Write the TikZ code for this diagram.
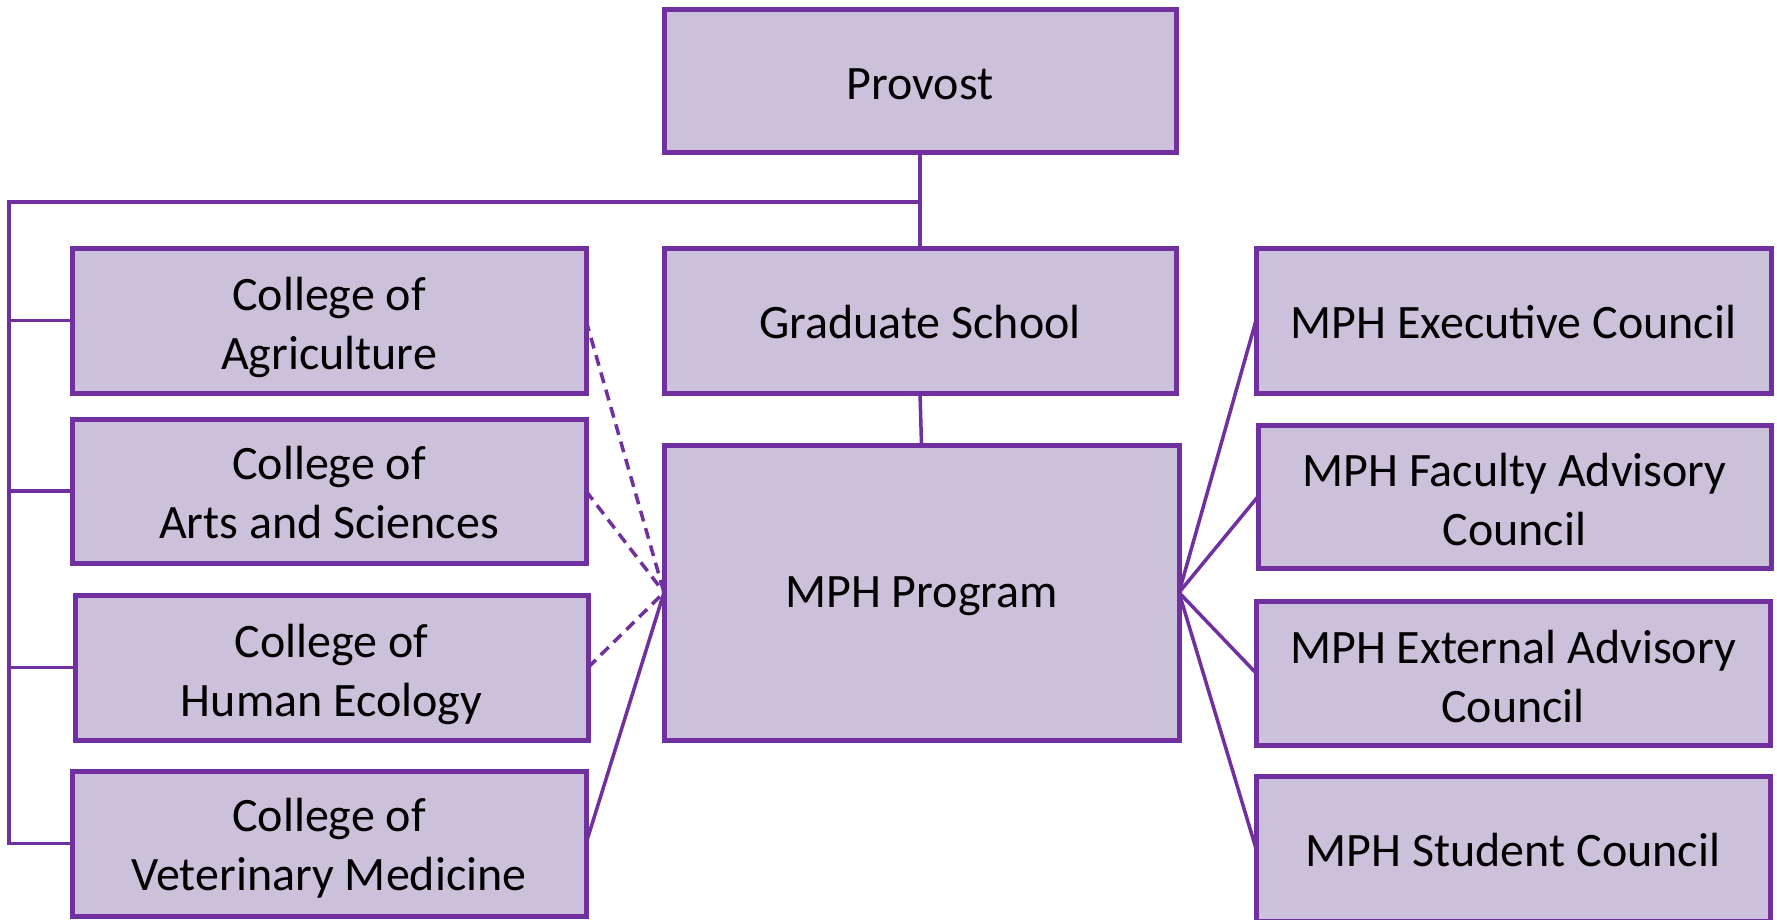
\documentclass[tikz,border=0pt]{standalone}
\usepackage{fontspec}
\setmainfont{Carlito}
\definecolor{boxfill}{HTML}{CCC1DA}
\definecolor{boxline}{HTML}{7030A0}
\newcommand\dn[1]{\raisebox{#1pt}{\vphantom{lP}}}
\begin{document}
\begin{tikzpicture}[x=1pt,y=-1pt,
  box/.style={draw=boxline, fill=boxfill, line width=5pt, inner sep=0pt, outer sep=0pt,
    align=center, text=black, font=\fontsize{48}{59}\selectfont,
    minimum width=514pt, minimum height=145pt},
  link/.style={draw=boxline, line width=3.5pt},
  dlink/.style={link, dash pattern=on 11pt off 7pt}]
\clip (0,0) rectangle (1777,919);
\fill[white] (0,0) rectangle (1777,919);
% centre column
\node[box, minimum width=512pt, minimum height=143pt] (provost) at (920,80.5) {\dn{5}Provost};
\node[box, minimum width=512pt] (grad) at (920,320.5) {\dn{4}Graduate School};
\node[box, minimum width=515pt, minimum height=295pt] (mph) at (921.5,592.5) {\dn{5}MPH Program};
% colleges
\node[box] (agri) at (329,320.5) {\dn{13}College of\\Agriculture};
\node[box, minimum height=144pt] (arts) at (329,491) {\dn{4}College of\\Arts and Sciences};
\node[box, minimum width=513pt] (human) at (331.5,667.5) {\dn{13}College of\\Human Ecology};
\node[box] (vet) at (329,843.5) {\dn{10}College of\\Veterinary Medicine};
% councils
\node[box, minimum width=515pt] (exec) at (1513.5,320.5) {\dn{3}MPH Executive Council};
\node[box, minimum width=513pt, minimum height=143pt] (faculty) at (1514.5,496.5) {\dn{6}MPH Faculty Advisory\\Council};
\node[box, minimum height=144pt] (external) at (1513,673) {\dn{6}MPH External Advisory\\Council};
\node[box] (student) at (1513,848.5) {\dn{3}MPH Student Council};
% tree connectors
\coordinate (corner) at (9,202);
\draw[link] (provost.south) -- (grad.north);
\draw[link] (grad.south) -- (mph.north);
\draw[link, line join=miter] (provost.south |- corner) -- (corner) -- (corner |- vet.west) -- (vet.west);
\draw[link] (corner |- agri.west) -- (agri.west);
\draw[link] (corner |- arts.west) -- (arts.west);
\draw[link] (corner |- human.west) -- (human.west);
% college links
\draw[dlink] (agri.east) -- (mph.west);
\draw[dlink] (arts.east) -- (mph.west);
\draw[dlink] (human.east) -- (mph.west);
\draw[link] (vet.east) -- (mph.west);
% council links
\draw[link] (mph.east) -- (exec.west);
\draw[link] (mph.east) -- (faculty.west);
\draw[link] (mph.east) -- (external.west);
\draw[link] (mph.east) -- (student.west);
\end{tikzpicture}
\end{document}
